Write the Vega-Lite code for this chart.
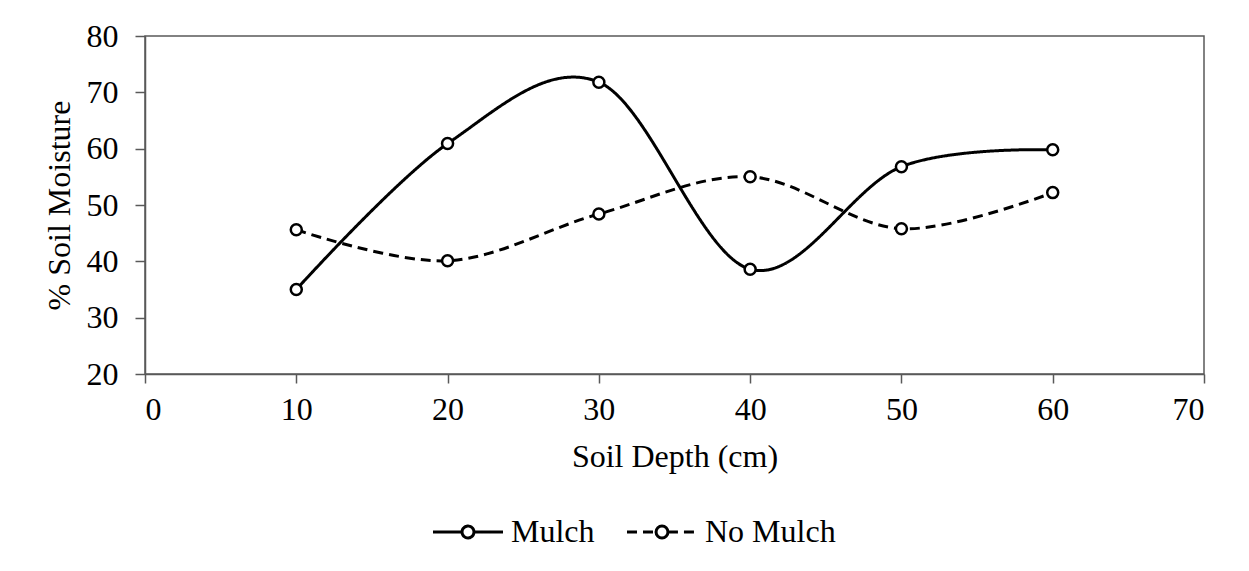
{
  "$schema": "https://vega.github.io/schema/vega-lite/v6.json",
  "width": 1059,
  "height": 338,
  "autosize": {"type": "none"},
  "padding": {"left": 145, "top": 36, "right": 45, "bottom": 197},
  "background": "white",
  "config": {
    "font": "Liberation Serif",
    "view": {"stroke": "#595959", "strokeWidth": 1.5},
    "axis": {
      "grid": false,
      "domainColor": "#595959",
      "domainWidth": 1.5,
      "tickColor": "#595959",
      "tickWidth": 1.5,
      "labelColor": "black",
      "labelFont": "Liberation Serif",
      "labelFontSize": 32,
      "titleColor": "black",
      "titleFont": "Liberation Serif",
      "titleFontSize": 32,
      "titleFontWeight": "normal"
    }
  },
  "data": {
    "values": [
      {"depth": 10, "series": "Mulch", "moisture": 35.0},
      {"depth": 20, "series": "Mulch", "moisture": 60.9},
      {"depth": 30, "series": "Mulch", "moisture": 71.8},
      {"depth": 40, "series": "Mulch", "moisture": 38.6},
      {"depth": 50, "series": "Mulch", "moisture": 56.8},
      {"depth": 60, "series": "Mulch", "moisture": 59.8},
      {"depth": 10, "series": "No Mulch", "moisture": 45.6},
      {"depth": 20, "series": "No Mulch", "moisture": 40.1},
      {"depth": 30, "series": "No Mulch", "moisture": 48.4},
      {"depth": 40, "series": "No Mulch", "moisture": 55.0},
      {"depth": 50, "series": "No Mulch", "moisture": 45.8},
      {"depth": 60, "series": "No Mulch", "moisture": 52.2}
    ]
  },
  "encoding": {
    "x": {
      "field": "depth",
      "type": "quantitative",
      "scale": {"domain": [0, 70], "nice": false, "zero": false},
      "axis": {
        "values": [0, 10, 20, 30, 40, 50, 60, 70],
        "title": "Soil Depth (cm)",
        "tickSize": 9,
        "labelPadding": 11,
        "titlePadding": 16
      }
    },
    "y": {
      "field": "moisture",
      "type": "quantitative",
      "scale": {"domain": [20, 80], "nice": false, "zero": false},
      "axis": {
        "values": [20, 30, 40, 50, 60, 70, 80],
        "title": "% Soil Moisture",
        "tickSize": 10,
        "labelPadding": 17,
        "titlePadding": 10
      }
    }
  },
  "layer": [
    {
      "mark": {"type": "line", "interpolate": "cardinal", "color": "black", "strokeWidth": 3},
      "encoding": {
        "strokeDash": {
          "field": "series",
          "type": "nominal",
          "scale": {"domain": ["Mulch", "No Mulch"], "range": [[1, 0], [10, 6]]},
          "legend": {
            "orient": "none",
            "legendX": 304,
            "legendY": 477,
            "direction": "horizontal",
            "title": null,
            "padding": 0,
            "symbolType": "M-2,0L-0.34,0M0.34,0L2,0M0.34,0A0.34,0.34,0,0,1,0,0.34M0,0.34A0.34,0.34,0,0,1,-0.34,0M-0.34,0A0.34,0.34,0,0,1,0,-0.34M0,-0.34A0.34,0.34,0,0,1,0.34,0",
            "symbolSize": 1225,
            "symbolStrokeColor": "black",
            "symbolFillColor": "white",
            "symbolStrokeWidth": 3,
            "labelFont": "Liberation Serif",
            "labelFontSize": 32,
            "labelColor": "black",
            "labelOffset": 24,
            "columnPadding": 26
          }
        }
      }
    },
    {
      "mark": {"type": "point", "shape": "circle", "filled": true, "fill": "white", "stroke": "black", "strokeWidth": 2.5, "size": 121, "opacity": 1},
      "encoding": {"detail": {"field": "series", "type": "nominal"}}
    }
  ]
}
